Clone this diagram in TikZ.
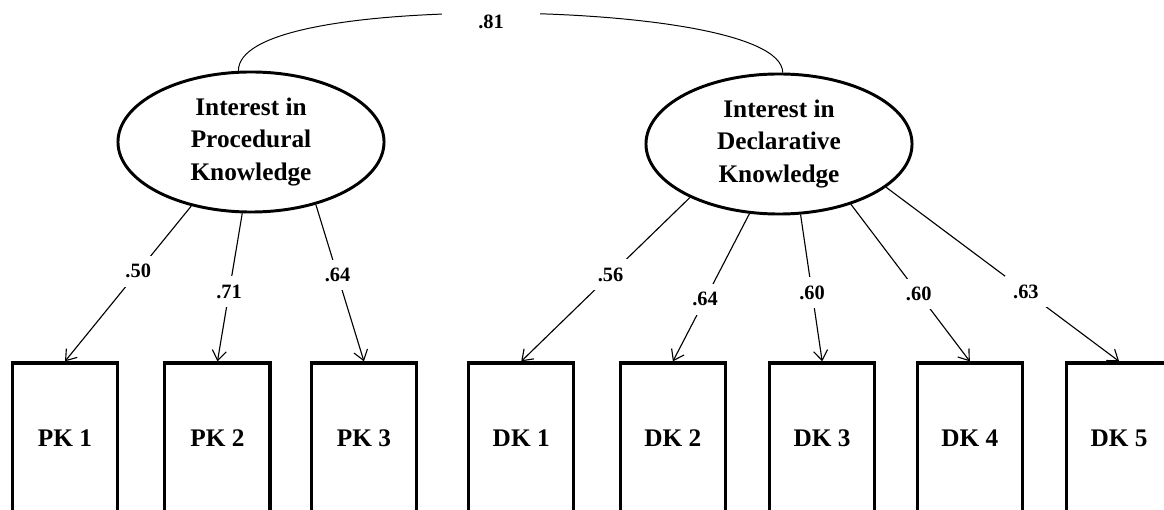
\documentclass[tikz,border=0pt]{standalone}
\usepackage{fontspec}
\setmainfont{Liberation Serif}
\usetikzlibrary{shapes.geometric,arrows.meta,positioning}

\begin{document}
\begin{tikzpicture}[
    x=0.025cm, y=-0.025cm,
    latent/.style={ellipse,draw,line width=2.1pt,minimum width=6.65cm,minimum height=3.5cm,inner sep=0pt,align=center,font=\bfseries\fontsize{18}{23}\selectfont},
    item/.style={rectangle,draw,line width=2.3pt,minimum width=2.63cm,minimum height=3.75cm,font=\bfseries\fontsize{18}{22}\selectfont},
    load/.style={-{Straight Barb[length=7pt,width=10pt]},line width=0.8pt},
    cov/.style={line width=0.7pt},
    coef/.style={fill=white,inner sep=6pt,font=\bfseries\fontsize{14.5}{16}\selectfont}
]
\useasboundingbox (0,0) rectangle (1164,510);
\clip (0,0) rectangle (1164,510);

% Latente Faktoren
\node[latent] (pk) at (251,142) {Interest in\\Procedural\\Knowledge};
\node[latent] (dk) at (779,144) {Interest in\\Declarative\\Knowledge};

% Indikatoren
\node[item] (pk1) at (65,438) {PK 1};
\node[item, right=1.1cm of pk1] (pk2) {PK 2};
\node[item, right=0.95cm of pk2] (pk3) {PK 3};
\node[item, right=1.22cm of pk3] (dk1) {DK 1};
\node[item, right=1.08cm of dk1] (dk2) {DK 2};
\node[item, right=1.02cm of dk2] (dk3) {DK 3};
\node[item, right=0.98cm of dk3] (dk4) {DK 4};
\node[item, right=1.02cm of dk4] (dk5) {DK 5};

% Korrelation
\draw[cov] (pk.100) .. controls (238,32) and (350,14) .. (491,13)
    .. controls (630,13) and (782,32) .. (dk.87);
\node[fill=white,minimum width=2.45cm,minimum height=0.7cm,inner sep=0pt,font=\bfseries\fontsize{14.5}{16}\selectfont] (r81) at (491,22) {.81};

% Ladungen
\draw[load] (pk.227) -- node[pos=0.42, coef] {.50} (pk1.north);
\draw[load] (pk.263) -- node[pos=0.53, coef] {.71} (pk2.north);
\draw[load] (pk.316) -- node[pos=0.45, coef] {.64} (pk3.north);

\draw[load] (dk.211) -- node[pos=0.47, coef] {.56} (dk1.north);
\draw[load] (dk.247) -- node[pos=0.58, coef] {.64} (dk2.north);
\draw[load] (dk.287) -- node[pos=0.53, coef] {.60} (dk3.north);
\draw[load] (dk.320) -- node[pos=0.57, coef] {.60} (dk4.north);
\draw[load] (dk.338) -- node[pos=0.60, coef] {.63} (dk5.north);

\end{tikzpicture}
\end{document}
